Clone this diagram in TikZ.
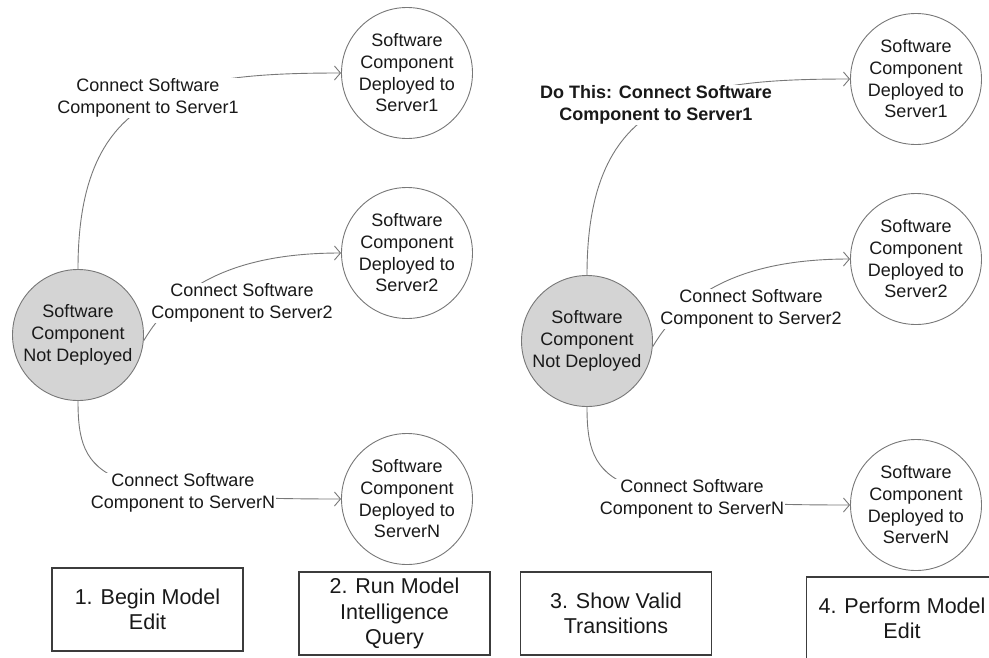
\documentclass[tikz,border=0pt]{standalone}
\usepackage{fontspec}
\setmainfont{Liberation Sans}
\usetikzlibrary{arrows.meta}
\definecolor{linegray}{RGB}{120,120,120}
\definecolor{fillgray}{RGB}{212,212,212}
\definecolor{boxgray}{RGB}{60,60,60}
\definecolor{textdark}{RGB}{25,25,25}
\begin{document}
\begin{tikzpicture}[x=1pt,y=-1pt,
  state/.style={circle, draw=linegray, line width=0.9pt, minimum size=131pt, inner sep=0pt, align=center, text=textdark, font=\fontsize{18}{21.7}\selectfont},
  startstate/.style={state, fill=fillgray},
  trans/.style={draw=linegray, line width=0.9pt, -{Straight Barb[length=6pt,width=14pt]}},
  translabel/.style={fill=white, inner sep=0.8pt, align=center, text=textdark, font=\fontsize{18}{22}\selectfont},
  stepbox/.style={draw=boxgray, line width=1.3pt, minimum width=191pt, minimum height=83pt, inner sep=0pt, align=center, text=textdark, font=\fontsize{21.5}{25.5}\selectfont}
]
\clip (0,0) rectangle (989,657);
\fill[white] (0,0) rectangle (989,657);

% ---------- left panel ----------
\node[startstate] (g1) at (78,335) {Software\\Component\\Not Deployed};
\node[state] (a1) at (407,73) {Software\\Component\\Deployed to\\Server1};
\node[state] (b1) at (407,253) {Software\\Component\\Deployed to\\Server2};
\node[state] (n1) at (407,499) {Software\\Component\\Deployed to\\ServerN};

\draw[trans] (g1.north) .. controls +(0,-179) and +(-162,0) .. (a1.west);
\draw[trans] (g1.-5) .. controls +(30,-51) and +(-112,0) .. (b1.west);
\draw[trans] (g1.south) .. controls +(0,78) and +(-240,0) .. (n1.west);

\node[translabel] (l1a) at (148,98) {Connect Software\\Component to Server1};
\node[translabel] (l1b) at (242,303) {Connect Software\\Component to Server2};
\node[translabel] (l1n) at (183,493) {Connect Software\\Component to ServerN};

% ---------- right panel ----------
\node[startstate] (g2) at (587,341) {Software\\Component\\Not Deployed};
\node[state] (a2) at (916,79) {Software\\Component\\Deployed to\\Server1};
\node[state] (b2) at (916,259) {Software\\Component\\Deployed to\\Server2};
\node[state] (n2) at (916,505) {Software\\Component\\Deployed to\\ServerN};

\draw[trans] (g2.north) .. controls +(0,-179) and +(-162,0) .. (a2.west);
\draw[trans] (g2.-5) .. controls +(30,-51) and +(-112,0) .. (b2.west);
\draw[trans] (g2.south) .. controls +(0,78) and +(-240,0) .. (n2.west);

\node[translabel, font=\fontsize{18}{22}\selectfont\bfseries] (l2a) at (656,105) {Do This: Connect Software\\Component to Server1};
\node[translabel] (l2b) at (751,309) {Connect Software\\Component to Server2};
\node[translabel] (l2n) at (692,499) {Connect Software\\Component to ServerN};

% ---------- step boxes ----------
\node[stepbox] (s1) at (147.5,609.5) {1. Begin Model\\Edit};
\node[stepbox] (s2) at (394.5,613.5) {2. Run Model\\Intelligence\\Query};
\node[stepbox] (s3) at (616,613.5) {3. Show Valid\\Transitions};
\node[stepbox] (s4) at (902,618.5) {4. Perform Model\\Edit};
\end{tikzpicture}
\end{document}
